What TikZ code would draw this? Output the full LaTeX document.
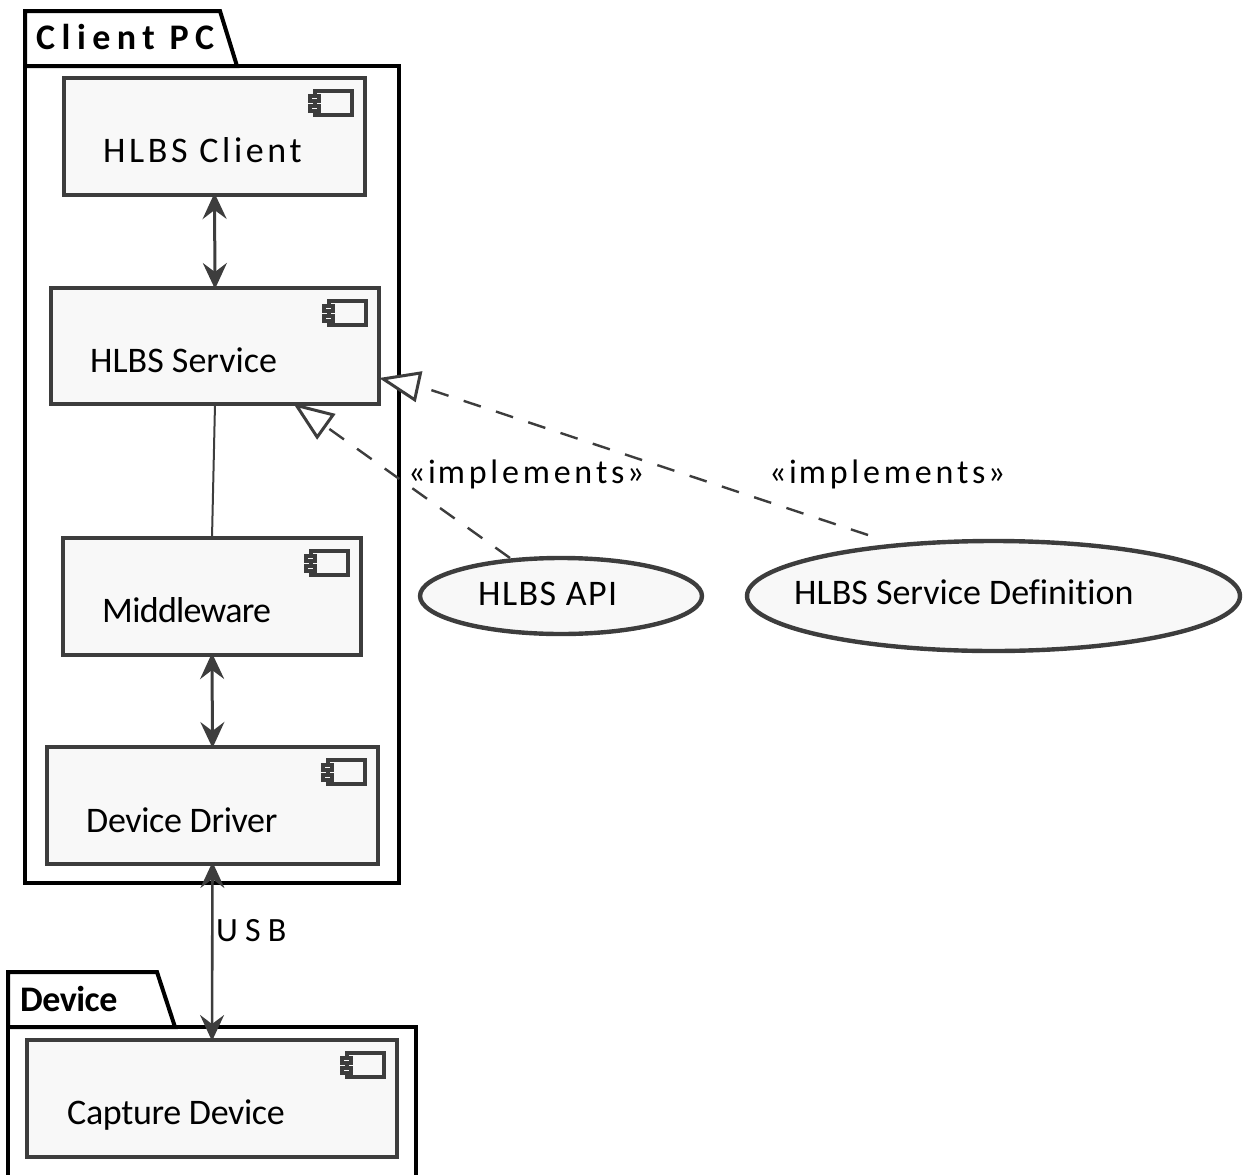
\documentclass[tikz,border=0pt]{standalone}
\usepackage{fontspec}
\setmainfont[Ligatures=NoCommon]{Carlito}
\usetikzlibrary{arrows.meta,shapes.geometric}
\definecolor{edge}{HTML}{3D3D3D}
\definecolor{fillgrey}{HTML}{F8F8F8}
\newcommand{\sk}{\kern3.8pt}
\newcommand{\implabel}{«\kern2.5pt i\kern2pt m\sk p\sk l\sk e\sk m\sk e\sk n\sk t\kern3.5pt s\kern2.5pt »}
\newcommand{\spaced}[2]{{\addfontfeature{LetterSpace=#1}#2}}
\tikzset{
  x=1pt,y=-1pt,
  comp/.style={draw=edge,fill=fillgrey,line width=4.4pt,inner sep=0pt,outer sep=0pt,anchor=north west},
  usecase/.style={draw=edge,fill=fillgrey,line width=4.4pt,ellipse,inner sep=0pt,outer sep=0pt},
  txt/.style={anchor=west,inner sep=0pt,font=\fontsize{36}{40}\selectfont,text=black},
  edgelabel/.style={anchor=west,inner sep=0pt,font=\fontsize{34}{38}\selectfont,text=black},
  pkgtitle/.style={anchor=west,inner sep=0pt,font=\fontsize{36}{40}\selectfont\bfseries,text=black},
  pkg/.style={draw=black,line width=4pt,line join=miter},
  both/.style={draw=edge,line width=3pt,{Stealth[length=26pt,width=24pt,inset=9pt]}-{Stealth[length=26pt,width=24pt,inset=9pt]},shorten <=-2pt,shorten >=-1pt},
  real/.style={draw=edge,line width=2.4pt,dash pattern=on 18pt off 16pt,-{Triangle[open,fill=white,length=41pt,width=31pt,line width=3pt]}}
}
\newcommand{\compicon}[1]{%
  \path[draw=edge,line width=3.5pt,fill=fillgrey] ([shift={(-50,13)}]#1.north east) rectangle ([shift={(-13,37)}]#1.north east);
  \path[draw=edge,line width=4pt,fill=fillgrey] ([shift={(-55,17.5)}]#1.north east) rectangle ([shift={(-46,23)}]#1.north east);
  \path[draw=edge,line width=4pt,fill=fillgrey] ([shift={(-55,27.5)}]#1.north east) rectangle ([shift={(-46,33)}]#1.north east);
}
\begin{document}
\begin{tikzpicture}
\useasboundingbox (0,0) rectangle (1245,1175);
\clip (0,0) rectangle (1245,1175);
% packages
\draw[pkg,fill=white] (25,66) -- (25,11) -- (220,11) -- (237,66) -- cycle;
\draw[pkg] (25,66) rectangle (399,883);
\draw[pkg,fill=white] (8,1027) -- (8,972) -- (157,972) -- (175,1027) -- cycle;
\draw[pkg] (8,1027) rectangle (416,1180);
\node[pkgtitle] (pcTitle) at (36,37) {\spaced{18}{Client PC}};
\node[pkgtitle] (devTitle) at (20,999) {\spaced{-1.4}{Device}};
% components
\node[comp,minimum width=301pt,minimum height=117pt] (client) at (64,78) {};
\node[comp,minimum width=328pt,minimum height=116pt] (service) at (51,288) {};
\node[comp,minimum width=298pt,minimum height=117pt] (middleware) at (63,538) {};
\node[comp,minimum width=331pt,minimum height=117pt] (driver) at (47,747) {};
\node[comp,minimum width=370pt,minimum height=117pt] (capture) at (27,1040) {};
\compicon{client}\compicon{service}\compicon{middleware}\compicon{driver}\compicon{capture}
\node[txt] (clientT) at (103,150) {\spaced{10}{HLBS Client}};
\node[txt] (serviceT) at (90,360) {HLBS Service};
\node[txt] (middlewareT) at (102,610) {\spaced{-2}{Middleware}};
\node[txt] (driverT) at (86,820) {\spaced{-1}{Device Driver}};
\node[txt] (captureT) at (67,1115.5) {\spaced{-1}{Capture Device}};
% use cases
\node[usecase,minimum width=282pt,minimum height=76pt] (api) at (561,596) {};
\node[usecase,minimum width=493pt,minimum height=110pt] (def) at (993.5,596) {};
\node[txt] (apiT) at (478,594) {\spaced{4}{HLBS API}};
\node[txt] (defT) at (794,592) {HLBS Service Definition};
% connectors
\draw[both] (client.south) -- (service.north);
\draw[draw=edge,line width=2pt] (service.south) -- (middleware.north);
\draw[both] (middleware.south) -- (driver.north);
\draw[both,line width=2.6pt] (driver.south) -- (capture.north);
\coordinate (apiEnd) at ([shift={(-51,0)}]api.north);
\coordinate (defEnd) at ([shift={(-125.5,-6)}]def.north);
\coordinate (tipA) at ([shift={(242,-1)}]service.south west);
\coordinate (tipB) at ([shift={(0,-26)}]service.south east);
\coordinate (bendB) at ([shift={(46,10)}]tipB);
\draw[real] (apiEnd) -- (tipA);
\draw[real] (defEnd) -- (bendB) -- (tipB);
\node[edgelabel] (lab1) at (408,474) {\implabel};
\node[edgelabel] (lab2) at (769,474) {\implabel};
\node[edgelabel] (lab3) at (216,931) {\spaced{21}{USB}};
\end{tikzpicture}
\end{document}
